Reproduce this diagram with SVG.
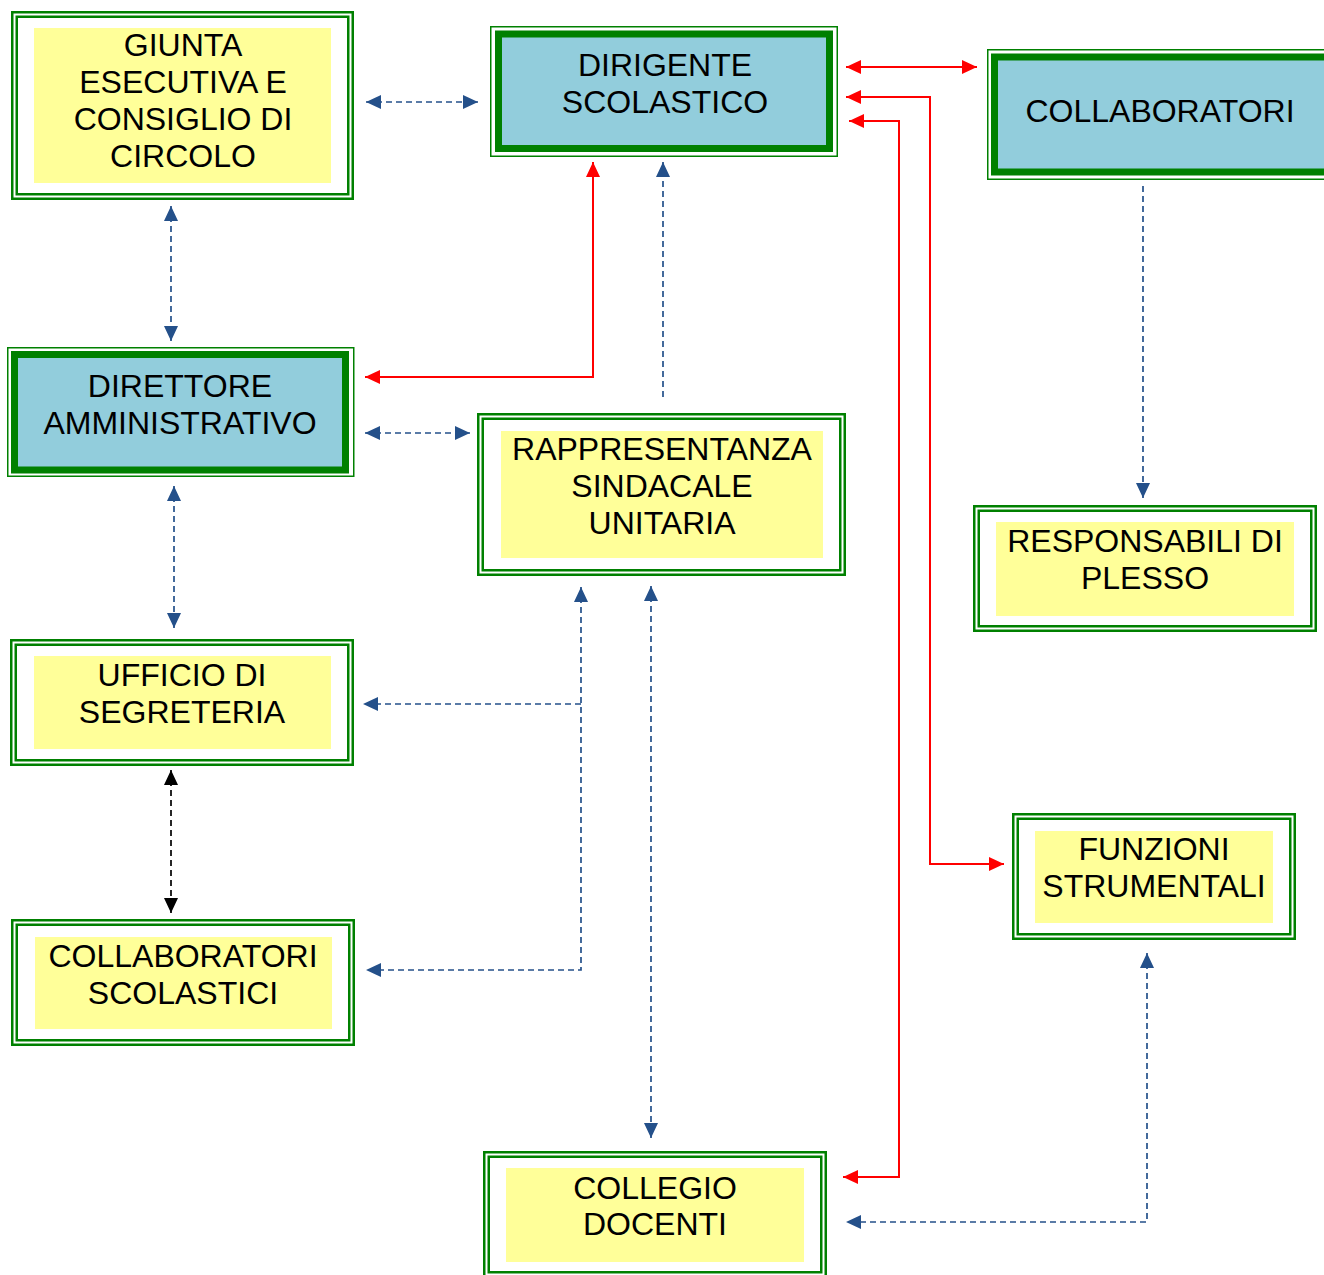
<svg xmlns="http://www.w3.org/2000/svg" width="1324" height="1275" viewBox="0 0 1324 1275">
<defs>
<style>
.t{font-family:"Liberation Sans",Arial,sans-serif;font-size:32px;fill:#000;text-anchor:middle}
.o{fill:#fff;stroke:#008000;stroke-width:2.5}
.i{fill:none;stroke:#008000;stroke-width:2.5}
.y{fill:#FFFF99}
.bo{fill:#fff;stroke:#008000;stroke-width:1.5}
.bi{fill:#92CDDC;stroke:#008000;stroke-width:7}
.db{fill:none;stroke:#24508A;stroke-width:1.7;stroke-dasharray:6 4}
.dk{fill:none;stroke:#000;stroke-width:1.7;stroke-dasharray:6 4}
.rd{fill:none;stroke:#FF0000;stroke-width:2}
</style>
<marker id="ab" markerUnits="userSpaceOnUse" viewBox="0 0 15 14" markerWidth="15" markerHeight="14" refX="15" refY="7" orient="auto-start-reverse"><path d="M0,0 L15,7 L0,14 z" fill="#24508A"/></marker>
<marker id="ak" markerUnits="userSpaceOnUse" viewBox="0 0 15 14" markerWidth="15" markerHeight="14" refX="15" refY="7" orient="auto-start-reverse"><path d="M0,0 L15,7 L0,14 z" fill="#000"/></marker>
<marker id="ar" markerUnits="userSpaceOnUse" viewBox="0 0 15 14" markerWidth="15" markerHeight="14" refX="15" refY="7" orient="auto-start-reverse"><path d="M0,0 L15,7 L0,14 z" fill="#FF0000"/></marker>
</defs>

<g id="giunta">
<rect class="o" x="12.25" y="12.25" width="340.5" height="186.5"/>
<rect class="i" x="16.75" y="16.75" width="331.5" height="177.5"/>
<rect class="y" x="34" y="28" width="297" height="155"/>
<text class="t" x="183" y="56">GIUNTA</text>
<text class="t" x="183" y="93">ESECUTIVA E</text>
<text class="t" x="183" y="130">CONSIGLIO DI</text>
<text class="t" x="183" y="167">CIRCOLO</text>
</g>

<g id="dirigente">
<rect class="bo" x="490.75" y="26.75" width="346.5" height="129.5"/>
<rect class="bi" x="498.5" y="34" width="331" height="114.5"/>
<text class="t" x="665" y="76">DIRIGENTE</text>
<text class="t" x="665" y="113">SCOLASTICO</text>
</g>

<g id="collaboratori">
<rect class="bo" x="987.75" y="49.75" width="360" height="129.5"/>
<rect class="bi" x="994.5" y="57" width="350" height="115"/>
<text class="t" x="1160" y="122">COLLABORATORI</text>
</g>

<g id="direttore">
<rect class="bo" x="7.75" y="347.75" width="346" height="128.5"/>
<rect class="bi" x="14.5" y="354.5" width="331" height="115.5"/>
<text class="t" x="180" y="397">DIRETTORE</text>
<text class="t" x="180" y="434">AMMINISTRATIVO</text>
</g>

<g id="rappresentanza">
<rect class="o" x="478.25" y="414.25" width="366.5" height="160.5"/>
<rect class="i" x="482.75" y="418.75" width="357.5" height="151.5"/>
<rect class="y" x="501" y="431" width="322" height="127"/>
<text class="t" x="662" y="460">RAPPRESENTANZA</text>
<text class="t" x="662" y="497">SINDACALE</text>
<text class="t" x="662" y="534">UNITARIA</text>
</g>

<g id="responsabili">
<rect class="o" x="974.25" y="506.25" width="341.5" height="124.5"/>
<rect class="i" x="978.75" y="510.75" width="332.5" height="115.5"/>
<rect class="y" x="996" y="522" width="298" height="94"/>
<text class="t" x="1145" y="552">RESPONSABILI DI</text>
<text class="t" x="1145" y="589">PLESSO</text>
</g>

<g id="ufficio">
<rect class="o" x="11.25" y="640.25" width="341.5" height="124.5"/>
<rect class="i" x="15.75" y="644.75" width="332.5" height="115.5"/>
<rect class="y" x="34" y="656" width="297" height="93"/>
<text class="t" x="182" y="686">UFFICIO DI</text>
<text class="t" x="182" y="723">SEGRETERIA</text>
</g>

<g id="collaboratori_scolastici">
<rect class="o" x="12.25" y="920.25" width="341.5" height="124.5"/>
<rect class="i" x="16.75" y="924.75" width="332.5" height="115.5"/>
<rect class="y" x="35" y="937" width="297" height="92"/>
<text class="t" x="183" y="967">COLLABORATORI</text>
<text class="t" x="183" y="1004">SCOLASTICI</text>
</g>

<g id="funzioni">
<rect class="o" x="1013.25" y="814.25" width="281.5" height="124.5"/>
<rect class="i" x="1017.75" y="818.75" width="272.5" height="115.5"/>
<rect class="y" x="1035" y="831" width="238" height="92"/>
<text class="t" x="1154" y="860">FUNZIONI</text>
<text class="t" x="1154" y="897">STRUMENTALI</text>
</g>

<g id="collegio">
<rect class="o" x="484.25" y="1152.25" width="341.5" height="124.5"/>
<rect class="i" x="488.75" y="1156.75" width="332.5" height="115.5"/>
<rect class="y" x="506" y="1168" width="298" height="94"/>
<text class="t" x="655" y="1199">COLLEGIO</text>
<text class="t" x="655" y="1235">DOCENTI</text>
</g>

<g id="connectors">
<path class="db" d="M366,102 H478" marker-start="url(#ab)" marker-end="url(#ab)"/>
<path class="db" d="M171,206 V341" marker-start="url(#ab)" marker-end="url(#ab)"/>
<path class="rd" d="M846,67 H977" marker-start="url(#ar)" marker-end="url(#ar)"/>
<path class="rd" d="M846,97 H930 V864 H1004" marker-start="url(#ar)" marker-end="url(#ar)"/>
<path class="rd" d="M849,121 H899 V1177 H843" marker-start="url(#ar)" marker-end="url(#ar)"/>
<path class="rd" d="M593,162 V377 H365" marker-start="url(#ar)" marker-end="url(#ar)"/>
<path class="db" d="M663,397 V162" marker-end="url(#ab)"/>
<path class="db" d="M365,433 H470" marker-start="url(#ab)" marker-end="url(#ab)"/>
<path class="db" d="M174,486 V628" marker-start="url(#ab)" marker-end="url(#ab)"/>
<path class="db" d="M581,587 V970 H366" marker-start="url(#ab)" marker-end="url(#ab)"/>
<path class="db" d="M581,704 H363" marker-end="url(#ab)"/>
<path class="db" d="M651,586 V1138" marker-start="url(#ab)" marker-end="url(#ab)"/>
<path class="dk" d="M171,770 V913" marker-start="url(#ak)" marker-end="url(#ak)"/>
<path class="db" d="M1143,186 V498" marker-end="url(#ab)"/>
<path class="db" d="M1147,953 V1222 H846" marker-start="url(#ab)" marker-end="url(#ab)"/>
</g>
</svg>
